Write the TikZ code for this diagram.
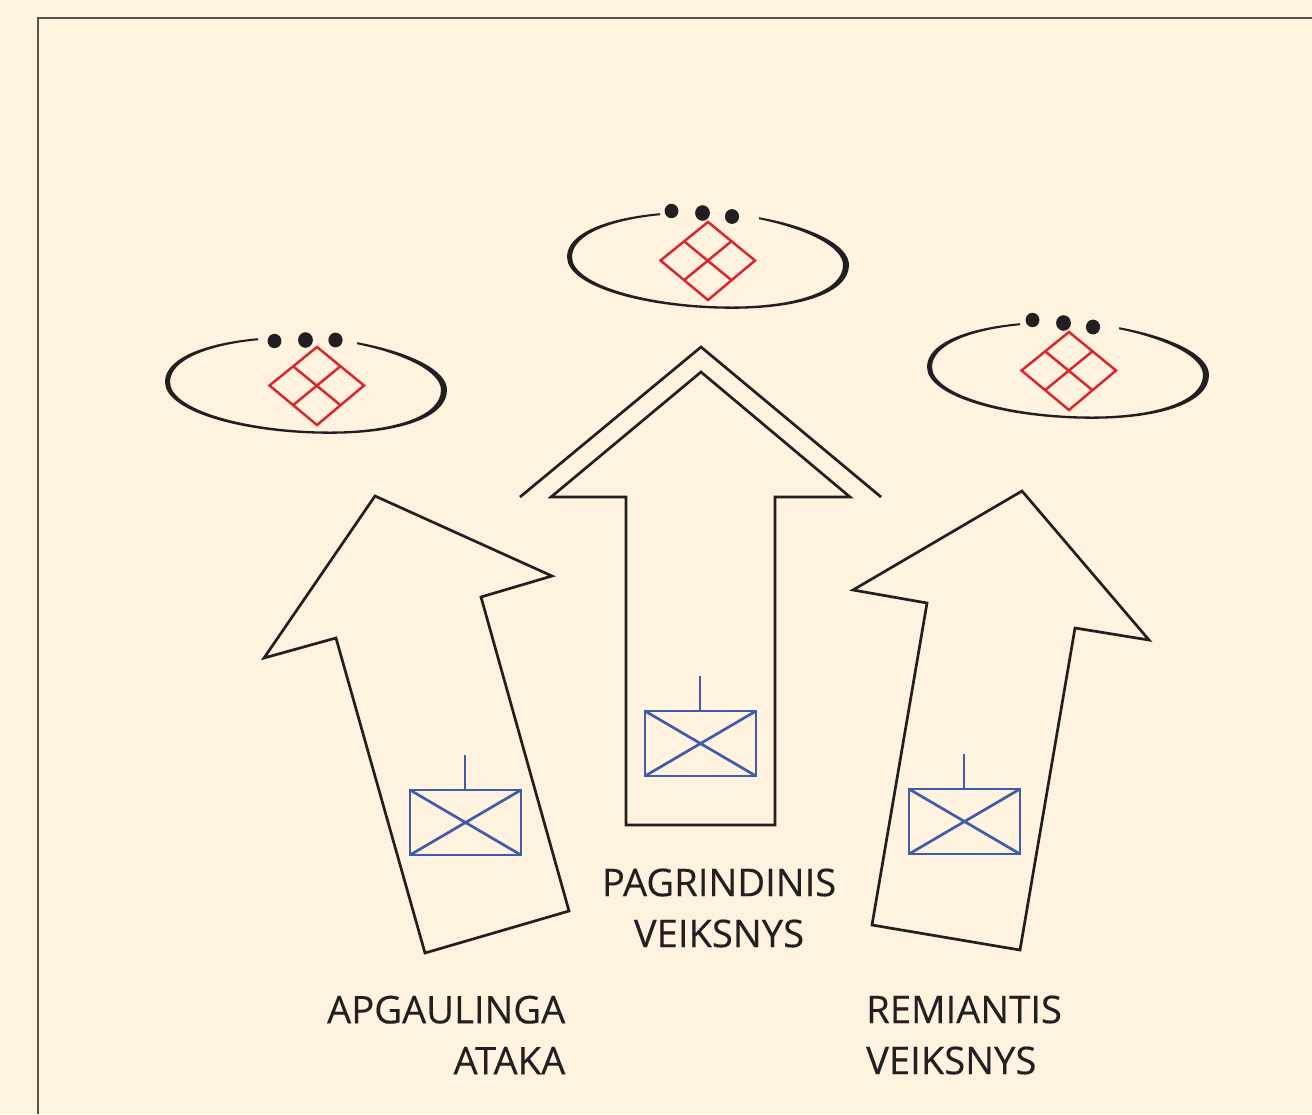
\documentclass[tikz,border=0pt]{standalone}
\usepackage{fontspec}
\setmainfont[FakeBold=0.25]{Open Sans}
\definecolor{paper}{HTML}{FFF3E0}
\definecolor{ink}{HTML}{231F20}
\definecolor{enemyred}{HTML}{D8282F}
\definecolor{unitblue}{HTML}{3F5CA8}
\definecolor{framegray}{HTML}{56524E}
\tikzset{
  arrowline/.style={draw=ink,line width=2.7pt,line join=miter,miter limit=10},
  enemyline/.style={draw=enemyred,line width=2.5pt},
  unitline/.style={draw=unitblue,line width=2.7pt},
  caption/.style={text=ink,font=\fontsize{38.2}{51}\selectfont,inner sep=0pt},
  ring/.style={fill=ink,draw=none},
  dotmark/.style={fill=ink,draw=none}
}
\newcommand{\enemyring}[2]{%
  \fill[ring,shift={(#1,#2)}] (258,338.2) .. controls (205,343) and (165,358) .. (165,382)
    .. controls (165,412) and (245,433.8) .. (330,433.8)
    .. controls (398,433.8) and (447,418) .. (447,390)
    .. controls (447,370) and (410,352) .. (357,342.2)
    -- (357,344.2) .. controls (405,354) and (441,372) .. (441,390)
    .. controls (441,416) and (394,431.5) .. (330,431.5)
    .. controls (248,431.5) and (170,410) .. (170,382)
    .. controls (170,360) and (208,345) .. (258,340.2) -- cycle;}
\newcommand{\enemydiamond}[2]{%
  \begin{scope}[shift={(#1,#2)}]
    \draw[enemyline,line join=miter] (317,347) -- (364,385.5) -- (317,425) -- (269.5,385.5) -- cycle;
    \draw[enemyline] (293,366.2) -- (340.5,405.2) (340.5,366.2) -- (293,405.2);
  \end{scope}}
\newcommand{\unitbox}[2]{%
  \begin{scope}[shift={(#1,#2)}]
    \draw[unitline] (0,0) rectangle (111,65);
    \draw[unitline] (0,0) -- (111,65) (111,0) -- (0,65);
    \draw[unitline] (55,0) -- (55,-35);
  \end{scope}}
\begin{document}
\begin{tikzpicture}[x=1pt,y=-1pt]
\useasboundingbox (0,0) rectangle (1312,1114);
\fill[paper] (0,0) rectangle (1312,1114);
\draw[framegray,line width=1.5pt] (38,1114) -- (38,18) -- (1312,18);
% enemy positions
\enemyring{0}{0}
\enemyring{402}{-125}
\enemyring{762}{-15}
\enemydiamond{0}{0}
\enemydiamond{391}{-125}
\enemydiamond{752}{-15}
\fill[dotmark] (274.5,341) ellipse (6.9 and 7.2) (305.5,340) ellipse (7.4 and 7.8) (335.5,340) ellipse (7.1 and 7.4);
\fill[dotmark] (671.5,211) ellipse (6.9 and 7.2) (702.5,213) ellipse (7.4 and 7.8) (732,216.5) ellipse (7.1 and 7.4);
\fill[dotmark] (1032.5,320) ellipse (6.9 and 7.2) (1063.5,323) ellipse (7.4 and 7.8) (1093,327) ellipse (7.1 and 7.4);
% arrows
\draw[arrowline] (520,497) -- (701,347) -- (881,497);
\draw[arrowline] (701,372) -- (850,497) -- (775,497) -- (775,825) -- (626,825) -- (626,497) -- (551,497) -- cycle;
\draw[arrowline] (375,496) -- (552,576) -- (481,597) -- (569,911) -- (425,953) -- (336,638) -- (264,658) -- cycle;
\draw[arrowline] (1022,491) -- (1149,640) -- (1075,628) -- (1020,950) -- (872,925) -- (927,603) -- (853,590) -- cycle;
% units
\unitbox{645}{711}
\unitbox{410}{790}
\unitbox{909}{789}
% captions
\node[caption,align=center,anchor=center] (main) at (719,908) {PAGRINDINIS\\VEIKSNYS};
\node[caption,align=right,anchor=east] (feint) at (565.5,1035) {APGAULINGA\\ATAKA};
\node[caption,align=left,anchor=west] (support) at (866,1035) {REMIANTIS\\VEIKSNYS};
\end{tikzpicture}
\end{document}
